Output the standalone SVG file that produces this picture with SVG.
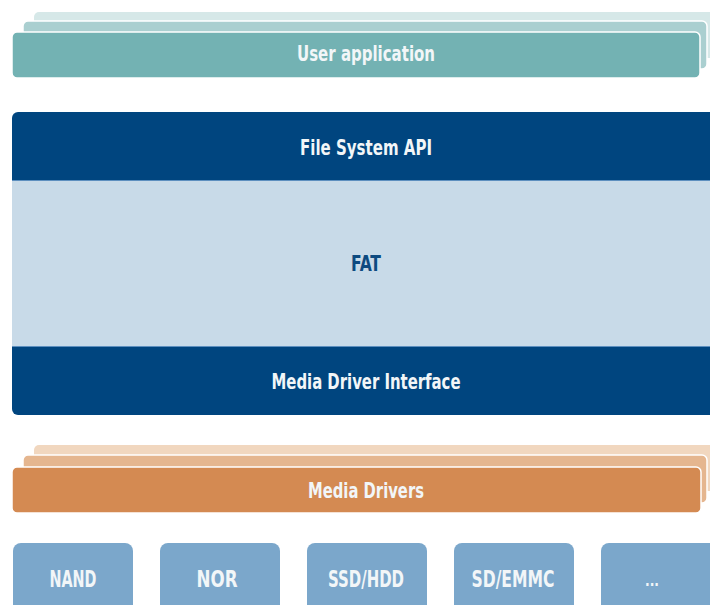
<svg xmlns="http://www.w3.org/2000/svg" width="710" height="605" viewBox="0 0 710 605">
<style>
.t{font-family:"DejaVu Sans Condensed","DejaVu Sans","Liberation Sans",sans-serif;font-stretch:condensed;font-weight:bold;font-size:22px;fill:#f2f6f8;text-anchor:middle}
.b{font-size:23px}
.drv{fill:#7ba7cb}
</style>
<rect width="710" height="605" fill="#ffffff"/>
<g id="user-application">
<rect x="34" y="12" width="690" height="46" rx="5" fill="#d6e8e8"/>
<rect x="23" y="21" width="684" height="48" rx="5" fill="#aacfd0" stroke="#ffffff" stroke-width="1.5"/>
<rect x="12" y="32" width="688" height="46" rx="5" fill="#73b2b3" stroke="#ffffff" stroke-width="1.5"/>
<text class="t" x="366" y="61" textLength="138" lengthAdjust="spacingAndGlyphs">User application</text>
</g>
<g id="fs-stack">
<rect x="12" y="112" width="710" height="303" rx="6" fill="#00457f"/>
<rect x="12" y="180" width="710" height="167" fill="#c8dae8"/>
<line x1="12" y1="180.5" x2="710" y2="180.5" stroke="#5d8fbf" stroke-width="1"/>
<line x1="12" y1="346.5" x2="710" y2="346.5" stroke="#5d8fbf" stroke-width="1"/>
</g>
<g id="file-system-api">
<text class="t" x="366" y="155" textLength="132" lengthAdjust="spacingAndGlyphs">File System API</text>
</g>
<g id="fat">
<text class="t" x="366" y="271" textLength="30" lengthAdjust="spacingAndGlyphs" style="fill:#0d4a80">FAT</text>
</g>
<g id="media-driver-interface">
<text class="t" x="366" y="389" textLength="189" lengthAdjust="spacingAndGlyphs">Media Driver Interface</text>
</g>
<g id="media-drivers">
<rect x="34" y="445" width="690" height="46" rx="5" fill="#f1d7bf"/>
<rect x="23" y="455" width="684" height="48" rx="5" fill="#e5b68f" stroke="#ffffff" stroke-width="1.5"/>
<rect x="12" y="467" width="689" height="46" rx="5" fill="#d48a52" stroke="#ffffff" stroke-width="1.5"/>
<text class="t" x="366" y="498" textLength="116" lengthAdjust="spacingAndGlyphs">Media Drivers</text>
</g>
<g id="nand">
<rect class="drv" x="13" y="543" width="120" height="80" rx="8"/>
<text class="t b" x="73" y="587" textLength="47" lengthAdjust="spacingAndGlyphs">NAND</text>
</g>
<g id="nor">
<rect class="drv" x="160" y="543" width="120" height="80" rx="8"/>
<text class="t b" x="217" y="587" textLength="41" lengthAdjust="spacingAndGlyphs">NOR</text>
</g>
<g id="ssd-hdd">
<rect class="drv" x="307" y="543" width="120" height="80" rx="8"/>
<text class="t b" x="366" y="587" textLength="76" lengthAdjust="spacingAndGlyphs">SSD/HDD</text>
</g>
<g id="sd-emmc">
<rect class="drv" x="454" y="543" width="120" height="80" rx="8"/>
<text class="t b" x="513" y="587" textLength="83" lengthAdjust="spacingAndGlyphs">SD/EMMC</text>
</g>
<g id="more">
<rect class="drv" x="601" y="543" width="120" height="80" rx="8"/>
<text class="t" x="652" y="586" style="font-size:16px" textLength="14" lengthAdjust="spacingAndGlyphs">...</text>
</g>
<g id="connectors"></g>
</svg>
